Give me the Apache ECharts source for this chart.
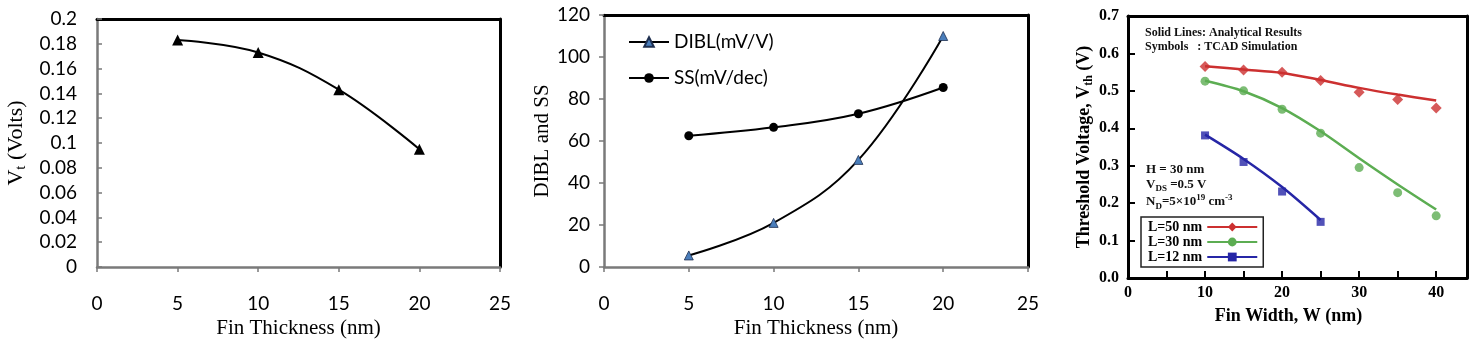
<!DOCTYPE html>
<html><head><meta charset="utf-8">
<script src="https://cdn.jsdelivr.net/npm/echarts@6/dist/echarts.min.js"></script>
<style>html,body{margin:0;padding:0;background:#fff}#c{width:1480px;height:345px}</style>
</head><body><div id="c"></div>
<script>
// ---------- data ----------
// Panel 1: Vt vs fin thickness
const finThickness = [5, 10, 15, 20];
const vtVolts = [0.183, 0.173, 0.143, 0.095];
// Panel 2: DIBL and SS vs fin thickness
const dibl = [5.5, 21, 51, 110];
const ss = [62.5, 66.5, 73, 85.5];
// Panel 3: threshold voltage vs fin width
const finWidth = [10, 15, 20, 25, 30, 35, 40];
const finWidthL12 = [10, 15, 20, 25];
const tcadL50 = [0.565, 0.556, 0.550, 0.528, 0.496, 0.477, 0.454];
const tcadL30 = [0.526, 0.500, 0.451, 0.387, 0.295, 0.228, 0.166];
const tcadL12 = [0.381, 0.310, 0.231, 0.150];
const anaL50 = [0.566, 0.557, 0.548, 0.529, 0.508, 0.490, 0.474];
const anaL30 = [0.527, 0.499, 0.454, 0.392, 0.320, 0.250, 0.183];
const anaL12 = [0.383, 0.318, 0.243, 0.155];
const seriesNames = ['L=50 nm', 'L=30 nm', 'L=12 nm'];
const panel2Names = ['DIBL(mV/V)', 'SS(mV/dec)'];

const pairs = (xs, ys) => xs.map((x, i) => [x, ys[i]]);

const SANS = 'Lato';
const SERIF = '"Liberation Serif", "Times New Roman", serif';
const GRAY = '#7a7a7a';
const RED = '#cc3030', GREEN = '#5cad52', BLUE = '#2626a6';

const chart = echarts.init(document.getElementById('c'), null, {renderer: 'canvas'});

const frameX = (g, min, max) => ({gridIndex: g, type: 'value', position: 'top', min, max,
  axisLine: {show: true, onZero: false, lineStyle: {color: '#000', width: 3}},
  axisTick: {show: false}, axisLabel: {show: false}, splitLine: {show: false}});
const frameY = (g, min, max) => ({gridIndex: g, type: 'value', position: 'right', min, max,
  axisLine: {show: true, onZero: false, lineStyle: {color: '#000', width: 3}},
  axisTick: {show: false}, axisLabel: {show: false}, splitLine: {show: false}});

const option = {
  animation: false,
  grid: [
    {left: 97, top: 19, width: 403, height: 248, containLabel: false, outerBoundsMode: 'none'},
    {left: 604, top: 15, width: 424, height: 252, containLabel: false, outerBoundsMode: 'none'},
    {left: 1128, top: 16, width: 339, height: 262, containLabel: false, outerBoundsMode: 'none'}
  ],
  xAxis: [
    {gridIndex: 0, type: 'value', min: 0, max: 25, interval: 5,
      name: 'Fin Thickness (nm)', nameLocation: 'middle', nameGap: 51,
      nameTextStyle: {fontFamily: SERIF, fontSize: 21, color: '#000'},
      axisLine: {onZero: false, lineStyle: {color: GRAY, width: 2.5}},
      axisTick: {inside: false, length: 5, lineStyle: {color: GRAY, width: 1.5}},
      axisLabel: {fontFamily: SANS, fontSize: 19, color: '#000', margin: 27},
      splitLine: {show: false}},
    {gridIndex: 1, type: 'value', min: 0, max: 25, interval: 5,
      name: 'Fin Thickness (nm)', nameLocation: 'middle', nameGap: 51,
      nameTextStyle: {fontFamily: SERIF, fontSize: 21, color: '#000'},
      axisLine: {onZero: false, lineStyle: {color: GRAY, width: 2.5}},
      axisTick: {inside: false, length: 5, lineStyle: {color: GRAY, width: 1.5}},
      axisLabel: {fontFamily: SANS, fontSize: 19, color: '#000', margin: 27},
      splitLine: {show: false}},
    {gridIndex: 2, type: 'value', min: 0, max: 44, interval: 5,
      name: 'Fin Width, W (nm)', nameLocation: 'middle', nameGap: 29,
      nameTextStyle: {fontFamily: SERIF, fontSize: 18, fontWeight: 'bold', color: '#000', padding: [0, 18, 0, 0]},
      axisLine: {onZero: false, lineStyle: {color: '#000', width: 3}},
      axisTick: {inside: true, length: 7, lineStyle: {color: '#000', width: 2}},
      axisLabel: {fontFamily: SERIF, fontSize: 16, fontWeight: 'bold', color: '#000', margin: 7,
        showMaxLabel: false, formatter: v => (v % 10 === 0 ? String(v) : '')},
      splitLine: {show: false}},
    frameX(0, 0, 25), frameX(1, 0, 25), frameX(2, 0, 44)
  ],
  yAxis: [
    {gridIndex: 0, type: 'value', min: 0, max: 0.2, interval: 0.02,
      name: '{n|V}{s|t}{n| (Volts)}', nameLocation: 'middle', nameGap: 68,
      nameTextStyle: {fontFamily: SERIF, fontSize: 21, color: '#000',
        rich: {n: {fontFamily: SERIF, fontSize: 22, lineHeight: 26, color: '#000'},
               s: {fontFamily: SERIF, fontSize: 15, lineHeight: 14, verticalAlign: 'bottom', color: '#000'}}},
      axisLine: {onZero: false, lineStyle: {color: GRAY, width: 2.5}},
      axisTick: {inside: true, length: 5, lineStyle: {color: GRAY, width: 1.5}},
      axisLabel: {fontFamily: SANS, fontSize: 19, color: '#000', margin: 20},
      splitLine: {show: false}},
    {gridIndex: 1, type: 'value', min: 0, max: 120, interval: 20,
      name: 'DIBL and SS', nameLocation: 'middle', nameGap: 48,
      nameTextStyle: {fontFamily: SERIF, fontSize: 21, color: '#000'},
      axisLine: {onZero: false, lineStyle: {color: GRAY, width: 2.5}},
      axisTick: {inside: false, length: 5, lineStyle: {color: GRAY, width: 1.5}},
      axisLabel: {fontFamily: SANS, fontSize: 19, color: '#000', margin: 14},
      splitLine: {show: false}},
    {gridIndex: 2, type: 'value', min: 0, max: 0.7, interval: 0.1,
      name: '{n|Threshold Voltage, V}{s|th}{n| (V)}', nameLocation: 'middle', nameGap: 33,
      nameTextStyle: {fontFamily: SERIF, fontSize: 18, fontWeight: 'bold', color: '#000',
        rich: {n: {fontFamily: SERIF, fontSize: 18, fontWeight: 'bold', lineHeight: 22, color: '#000'},
               s: {fontFamily: SERIF, fontSize: 12, fontWeight: 'bold', lineHeight: 12, verticalAlign: 'bottom', color: '#000'}}},
      axisLine: {onZero: false, lineStyle: {color: '#000', width: 3}},
      axisTick: {inside: true, length: 7, lineStyle: {color: '#000', width: 2}},
      axisLabel: {fontFamily: SERIF, fontSize: 16, fontWeight: 'bold', color: '#000', margin: 9,
        formatter: v => v.toFixed(1)},
      splitLine: {show: false}},
    frameY(0, 0, 0.2), frameY(1, 0, 120), frameY(2, 0, 0.7)
  ],
  legend: [
    {data: panel2Names, orient: 'vertical', left: 628, top: 32, padding: 0, itemWidth: 40, itemHeight: 12, itemGap: 16,
      textStyle: {fontFamily: SANS, fontSize: 19, color: '#000', lineHeight: 20}},
    {data: seriesNames, orient: 'vertical', left: 1141, top: 217, align: 'right',
      itemWidth: 50, itemHeight: 11, itemGap: 1,
      padding: [3, 5, 3, 7], borderColor: '#222', borderWidth: 1.5, backgroundColor: '#fff',
      textStyle: {fontFamily: SERIF, fontSize: 14, fontWeight: 'bold', color: '#000', lineHeight: 12}}
  ],
  series: [
    {type: 'line', xAxisIndex: 0, yAxisIndex: 0, data: pairs(finThickness, vtVolts), smooth: 0.4,
      symbol: 'triangle', symbolSize: 11, itemStyle: {color: '#000'}, lineStyle: {color: '#000', width: 2}},
    {type: 'line', name: panel2Names[0], xAxisIndex: 1, yAxisIndex: 1, data: pairs(finThickness, dibl), smooth: 0.4,
      symbol: 'triangle', symbolSize: 9, itemStyle: {color: '#4a7ebb', borderColor: '#1f3050', borderWidth: 0.8},
      lineStyle: {color: '#000', width: 2}},
    {type: 'line', name: panel2Names[1], xAxisIndex: 1, yAxisIndex: 1, data: pairs(finThickness, ss), smooth: 0.4,
      symbol: 'circle', symbolSize: 9, itemStyle: {color: '#000'}, lineStyle: {color: '#000', width: 2}},
    // analytical lines (first, so the legend takes its icon from them)
    {type: 'line', name: seriesNames[0], xAxisIndex: 2, yAxisIndex: 2, data: pairs(finWidth, anaL50), smooth: 0.3,
      symbol: 'diamond', symbolSize: 11, showSymbol: false, itemStyle: {color: RED}, lineStyle: {color: RED, width: 2.5}},
    {type: 'line', name: seriesNames[1], xAxisIndex: 2, yAxisIndex: 2, data: pairs(finWidth, anaL30), smooth: 0.3,
      symbol: 'circle', symbolSize: 9, showSymbol: false, itemStyle: {color: GREEN}, lineStyle: {color: GREEN, width: 2.5}},
    {type: 'line', name: seriesNames[2], xAxisIndex: 2, yAxisIndex: 2, data: pairs(finWidthL12, anaL12), smooth: 0.3,
      symbol: 'rect', symbolSize: 8, showSymbol: false, itemStyle: {color: BLUE}, lineStyle: {color: BLUE, width: 2.5}},
    // TCAD symbols
    {type: 'scatter', name: seriesNames[0], xAxisIndex: 2, yAxisIndex: 2, data: pairs(finWidth, tcadL50),
      symbol: 'diamond', symbolSize: 11, itemStyle: {color: RED}},
    {type: 'scatter', name: seriesNames[1], xAxisIndex: 2, yAxisIndex: 2, data: pairs(finWidth, tcadL30),
      symbol: 'circle', symbolSize: 9, itemStyle: {color: GREEN}},
    {type: 'scatter', name: seriesNames[2], xAxisIndex: 2, yAxisIndex: 2, data: pairs(finWidthL12, tcadL12),
      symbol: 'rect', symbolSize: 8, itemStyle: {color: BLUE}}
  ],
  graphic: [
    {type: 'text', x: 1145, y: 33, style: {text: 'Solid Lines: Analytical Results', fontFamily: SERIF,
      fontSize: 12, fontWeight: 'bold', fill: '#111', verticalAlign: 'middle'}},
    {type: 'text', x: 1145, y: 47, style: {text: 'Symbols   : TCAD Simulation', fontFamily: SERIF,
      fontSize: 12, fontWeight: 'bold', fill: '#111', verticalAlign: 'middle'}},
    {type: 'text', x: 1146, y: 170, style: {text: 'H = 30 nm', fontFamily: SERIF,
      fontSize: 13, fontWeight: 'bold', fill: '#111', verticalAlign: 'middle'}},
    {type: 'text', x: 1146, y: 185, style: {text: '{n|V}{s|DS}{n| =0.5 V}', fontFamily: SERIF, fontSize: 13, fontWeight: 'bold',
      fill: '#111', verticalAlign: 'middle',
      rich: {n: {fontFamily: SERIF, fontSize: 13, fontWeight: 'bold', lineHeight: 16, fill: '#111'},
             s: {fontFamily: SERIF, fontSize: 9, fontWeight: 'bold', lineHeight: 9, verticalAlign: 'bottom', fill: '#111'}}}},
    {type: 'text', x: 1146, y: 202, style: {text: '{n|N}{s|D}{n|=5×10}{p|19}{n| cm}{p|-3}', fontFamily: SERIF, fontSize: 13, fontWeight: 'bold',
      fill: '#111', verticalAlign: 'middle',
      rich: {n: {fontFamily: SERIF, fontSize: 13, fontWeight: 'bold', lineHeight: 18, fill: '#111'},
             s: {fontFamily: SERIF, fontSize: 9, fontWeight: 'bold', lineHeight: 9, verticalAlign: 'bottom', fill: '#111'},
             p: {fontFamily: SERIF, fontSize: 9, fontWeight: 'bold', lineHeight: 9, verticalAlign: 'top', fill: '#111'}}}}
  ]
};
chart.setOption(option);
</script></body></html>
